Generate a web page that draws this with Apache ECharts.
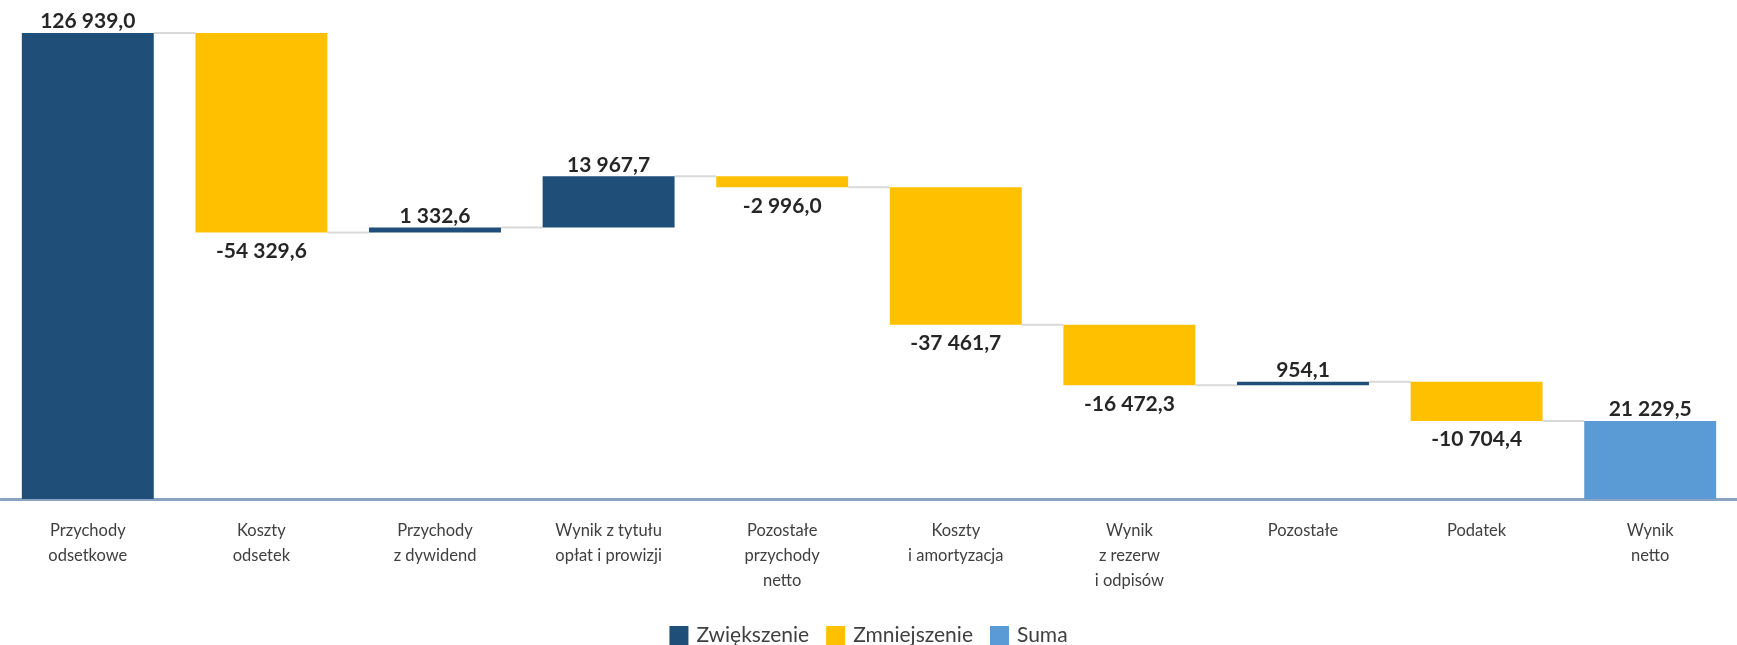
<!DOCTYPE html>
<html>
<head>
<meta charset="utf-8">
<title>Wynik netto – waterfall</title>
<script src="https://cdn.jsdelivr.net/npm/echarts@6/dist/echarts.min.js"></script>
<style>
  html, body { margin: 0; padding: 0; background: #ffffff; }
  #chart { width: 1737px; height: 645px; }
</style>
</head>
<body>
<div id="chart"></div>
<script>
// Categories of the profit bridge (two/three line labels)
const categories = [
  'Przychody\nodsetkowe',
  'Koszty\nodsetek',
  'Przychody\nz dywidend',
  'Wynik z tytułu\nopłat i prowizji',
  'Pozostałe\nprzychody\nnetto',
  'Koszty\ni amortyzacja',
  'Wynik\nz rezerw\ni odpisów',
  'Pozostałe',
  'Podatek',
  'Wynik\nnetto'
];

// Signed changes for every step before the total
const changes = [126939.0, -54329.6, 1332.6, 13967.7, -2996.0, -37461.7, -16472.3, 954.1, -10704.4];

// Final total bar
const totalValue = 21229.5;

const seriesNames = ['Zwiększenie', 'Zmniejszenie', 'Suma'];

const COLOR_UP = '#1F4E79';
const COLOR_DOWN = '#FFC000';
const COLOR_SUM = '#5B9BD5';
const FONT = 'Lato, "Open Sans", sans-serif';

// Polish number format: "126 939,0"
function fmt(v) {
  const neg = v < 0;
  const parts = Math.abs(v).toFixed(1).split('.');
  const intPart = parts[0].replace(/\B(?=(\d{3})+(?!\d))/g, ' ');
  return (neg ? '-' : '') + intPart + ',' + parts[1];
}

// Build the stacked pieces: invisible base + visible step
const baseData = [];
const upData = [];
const downData = [];
const sumData = [];
const levels = []; // running total after each step
let running = 0;
changes.forEach((c, i) => {
  const before = running;
  running = running + c;
  levels.push(running);
  if (c >= 0) {
    baseData.push(before);
    upData.push(c);
    downData.push('-');
  } else {
    baseData.push(running);
    upData.push('-');
    downData.push(-c);
  }
  sumData.push('-');
});
baseData.push(0);
upData.push('-');
downData.push('-');
sumData.push(totalValue);

const yMax = Math.max(...levels, totalValue);
const BAR_RATIO = 0.76;

// Grey connectors between neighbouring bars at the running total level
const connectorData = levels.map((v, i) => [i, v]);

const chart = echarts.init(document.getElementById('chart'), null, { renderer: 'canvas' });

const labelStyle = {
  show: true,
  fontFamily: FONT,
  fontSize: 21,
  fontWeight: 'bold',
  color: '#262626'
};

chart.setOption({
  animation: false,
  backgroundColor: '#ffffff',
  grid: { left: 1, top: 33, width: 1750, bottom: 146, containLabel: false },
  legend: {
    data: seriesNames,
    left: 'center',
    top: 625,
    icon: 'rect',
    itemWidth: 19,
    itemHeight: 19,
    itemGap: 17,
    padding: 0,
    selectedMode: false,
    textStyle: { fontFamily: FONT, fontSize: 21, color: '#404040', padding: [0, 0, 15, 3] }
  },
  xAxis: {
    type: 'category',
    data: categories,
    axisTick: { show: false },
    axisLine: { show: true, lineStyle: { color: '#8BA3C2', width: 3 } },
    axisLabel: {
      interval: 0,
      margin: 19,
      fontFamily: FONT,
      fontSize: 16.5,
      lineHeight: 25,
      color: '#404040'
    },
    splitLine: { show: false }
  },
  yAxis: {
    type: 'value',
    min: 0,
    max: yMax,
    show: false,
    splitLine: { show: false }
  },
  series: [
    {
      type: 'custom',
      name: 'connector',
      z: 1,
      silent: true,
      data: connectorData,
      renderItem: function (params, api) {
        const i = api.value(0);
        const v = api.value(1);
        const p1 = api.coord([i, v]);
        const p2 = api.coord([i + 1, v]);
        const half = api.size([1, 0])[0] * BAR_RATIO / 2;
        return {
          type: 'line',
          shape: { x1: p1[0] + half, y1: p1[1], x2: p2[0] - half, y2: p2[1] },
          style: { stroke: '#D9D9D9', lineWidth: 2 }
        };
      }
    },
    {
      type: 'bar',
      name: 'base',
      stack: 'w',
      barWidth: (BAR_RATIO * 100) + '%',
      itemStyle: { color: 'transparent' },
      emphasis: { disabled: true },
      silent: true,
      z: 2,
      data: baseData
    },
    {
      type: 'bar',
      name: seriesNames[0],
      stack: 'w',
      barWidth: (BAR_RATIO * 100) + '%',
      itemStyle: { color: COLOR_UP },
      z: 2,
      label: Object.assign({}, labelStyle, {
        position: 'top',
        distance: 1,
        formatter: p => fmt(changes[p.dataIndex])
      }),
      data: upData
    },
    {
      type: 'bar',
      name: seriesNames[1],
      stack: 'w',
      barWidth: (BAR_RATIO * 100) + '%',
      itemStyle: { color: COLOR_DOWN },
      z: 2,
      label: Object.assign({}, labelStyle, {
        position: 'bottom',
        distance: 8,
        formatter: p => fmt(changes[p.dataIndex])
      }),
      data: downData
    },
    {
      type: 'bar',
      name: seriesNames[2],
      stack: 'w',
      barWidth: (BAR_RATIO * 100) + '%',
      itemStyle: { color: COLOR_SUM },
      z: 2,
      label: Object.assign({}, labelStyle, {
        position: 'top',
        distance: 1,
        formatter: p => fmt(p.value)
      }),
      data: sumData
    }
  ]
});
</script>
</body>
</html>
